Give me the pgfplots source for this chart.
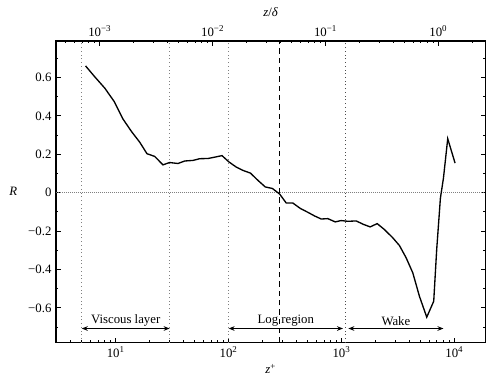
\documentclass[border=0pt]{standalone}
\usepackage{fontspec}
\setmainfont{Liberation Serif}
\usepackage{pgfplots}
\pgfplotsset{compat=1.18}
\usetikzlibrary{arrows.meta}
\begin{document}
\fontsize{9.6}{11}\selectfont
\begin{tikzpicture}
\begin{axis}[
  scale only axis, width=322.5pt, height=226.5pt,
  xmode=log, xmin=2.95, xmax=18800,
  ymin=-0.78, ymax=0.79,
  xtick={10,100,1000,10000},
  xticklabels={10\textsuperscript{1},10\textsuperscript{2},10\textsuperscript{3},10\textsuperscript{4}},
  minor xtick={3,4,5,6,7,8,9,20,30,40,50,60,70,80,90,200,300,400,500,600,700,800,900,2000,3000,4000,5000,6000,7000,8000,9000},
  xtick pos=bottom,
  ytick={-0.6,-0.4,-0.2,0,0.2,0.4,0.6},
  yticklabels={−0.6,−0.4,−0.2,0,0.2,0.4,0.6},
  minor ytick={-0.7,-0.5,-0.3,-0.1,0.1,0.3,0.5,0.7},
  tick align=inside,
  major tick length=3.5pt, minor tick length=1.8pt,
  axis line style={line width=1pt},
  every tick/.style={black, line width=0.7pt},
  xlabel={\textit{z}\textsuperscript{+}},
  xlabel style={yshift=2pt},
  clip=false,
]
\coordinate (bl) at (rel axis cs:0,0);
\coordinate (tr) at (rel axis cs:1,1);
\addplot[gray, dash pattern=on 0.6pt off 0.9pt, line width=0.6pt] coordinates {(2.95,0) (18800,0)};
\addplot[gray, dash pattern=on 0.6pt off 2.2pt, line width=0.6pt] coordinates {(5,-0.78) (5,0.79)};
\addplot[gray, dash pattern=on 0.6pt off 2.2pt, line width=0.6pt] coordinates {(30,-0.78) (30,0.79)};
\addplot[gray, dash pattern=on 0.6pt off 2.2pt, line width=0.6pt] coordinates {(100,-0.78) (100,0.79)};
\addplot[black!70, dash pattern=on 0.6pt off 2.2pt, line width=0.6pt] coordinates {(1090,-0.78) (1090,0.79)};
\addplot[black, dash pattern=on 4pt off 3pt, line width=0.7pt] coordinates {(283,-0.78) (283,0.79)};
\addplot[black, line width=1pt] coordinates {
(5.4,0.66)(6.5,0.604)(8.0,0.544)(9.7,0.474)(11.6,0.383)(13.8,0.318)(16.3,0.263)(18.9,0.203)(22.1,0.189)(26.2,0.145)(30,0.157)(35.6,0.152)(40.8,0.165)(48.3,0.168)(55.4,0.177)(65.6,0.178)(75.2,0.185)(87.3,0.193)(100.7,0.160)(117,0.133)(134,0.116)(156,0.102)(182,0.064)(211,0.030)(244,0.022)(283,-0.007)(324,-0.054)(371,-0.054)(434,-0.083)(503,-0.102)(577,-0.121)(661,-0.137)(757,-0.135)(879,-0.152)(993,-0.145)(1137,-0.149)(1349,-0.147)(1566,-0.165)(1795,-0.178)(2070,-0.161)(2403,-0.192)(2847,-0.235)(3260,-0.275)(3738,-0.339)(4280,-0.417)(4900,-0.539)(5690,-0.648)(6560,-0.565)(6970,-0.296)(7520,-0.028)(8000,0.076)(8730,0.281)(10140,0.154)
};
\draw[{Stealth[length=4.5pt,width=3.5pt]}-{Stealth[length=4.5pt,width=3.5pt]}, line width=0.75pt] (axis cs:5,-0.707) -- (axis cs:30,-0.707) node[midway, above, inner sep=1.5pt] {Viscous layer};
\draw[{Stealth[length=4.5pt,width=3.5pt]}-{Stealth[length=4.5pt,width=3.5pt]}, line width=0.75pt] (axis cs:100,-0.707) -- (axis cs:1030,-0.707) node[midway, above, inner sep=1.5pt] {Log region};
\draw[{Stealth[length=4.5pt,width=3.5pt]}-{Stealth[length=4.5pt,width=3.5pt]}, line width=0.75pt] (axis cs:1150,-0.707) -- (axis cs:8000,-0.707) node[midway, above, inner sep=1.5pt] {Wake};
\node at (rel axis cs:0,0.5) [xshift=-32pt] {\textit{R}};
\end{axis}
\begin{axis}[
  scale only axis, width=322.5pt, height=226.5pt,
  xmode=log, xmin=4.086e-4, xmax=2.604,
  ymin=0, ymax=1,
  axis x line*=top, axis y line=none,
  axis line style={-, line width=1pt},
  xtick={0.001,0.01,0.1,1},
  xticklabels={10\textsuperscript{−3},10\textsuperscript{−2},10\textsuperscript{−1},10\textsuperscript{0}},
  minor xtick={0.0005,0.0006,0.0007,0.0008,0.0009,0.002,0.003,0.004,0.005,0.006,0.007,0.008,0.009,0.02,0.03,0.04,0.05,0.06,0.07,0.08,0.09,0.2,0.3,0.4,0.5,0.6,0.7,0.8,0.9,2},
  tick align=inside,
  major tick length=3.5pt, minor tick length=1.8pt,
  every tick/.style={black, line width=0.7pt},
  xlabel={\textit{z}/\textit{δ}},
]
\end{axis}
\path ([shift={(-42pt,-24.75pt)}]bl) rectangle ([shift={(0pt,30.75pt)}]tr);
\end{tikzpicture}
\end{document}
